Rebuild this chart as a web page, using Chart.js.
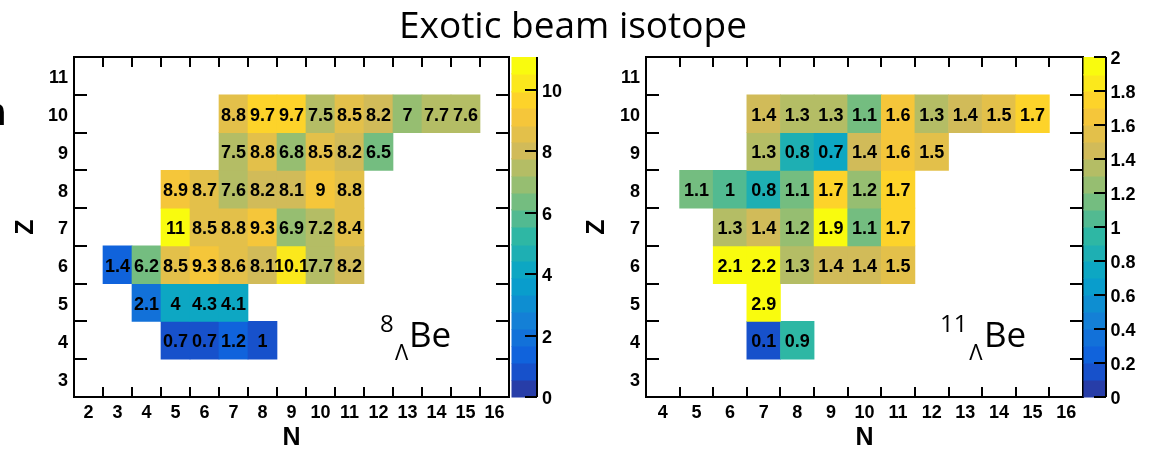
<!DOCTYPE html>
<html><head><meta charset="utf-8">
<script src="https://cdn.jsdelivr.net/npm/chart.js@4.4.1/dist/chart.umd.min.js"></script>
<style>
html,body{margin:0;padding:0;background:#fff;}
body{width:1152px;height:455px;overflow:hidden;position:relative;}
canvas{position:absolute;top:0;}
#title{position:absolute;left:0;width:1146px;top:5px;text-align:center;font-family:"Open Sans";font-size:37px;line-height:1;color:#000;white-space:nowrap;}
#frag{position:absolute;left:-17px;top:93px;font-family:"Liberation Sans";font-weight:bold;font-size:38px;line-height:1;color:#000;}
</style></head><body>
<canvas id="c1" width="576" height="455" style="left:0px"></canvas>
<canvas id="c2" width="576" height="455" style="left:576px"></canvas>
<div id="title">Exotic beam isotope</div>
<div id="frag">n</div>
<script>
// ---------- DATA ----------
const zTicks = [3,4,5,6,7,8,9,10,11];

// 8ΛBe panel: N categories 2..16
const be8N = ['2','3','4','5','6','7','8','9','10','11','12','13','14','15','16'];
const be8Z10 = [null,null,null,null,null,8.8,9.7,9.7,7.5,8.5,8.2,7,7.7,7.6,null];
const be8Z9  = [null,null,null,null,null,7.5,8.8,6.8,8.5,8.2,6.5,null,null,null,null];
const be8Z8  = [null,null,null,8.9,8.7,7.6,8.2,8.1,9,8.8,null,null,null,null,null];
const be8Z7  = [null,null,null,11,8.5,8.8,9.3,6.9,7.2,8.4,null,null,null,null,null];
const be8Z6  = [null,1.4,6.2,8.5,9.3,8.6,8.1,10.1,7.7,8.2,null,null,null,null,null];
const be8Z5  = [null,null,2.1,4,4.3,4.1,null,null,null,null,null,null,null,null,null];
const be8Z4  = [null,null,null,0.7,0.7,1.2,1,null,null,null,null,null,null,null,null];
const be8Max = 11.07;
const be8CbTicks = [0,2,4,6,8,10];

// 11ΛBe panel: N categories 4..16
const be11N = ['4','5','6','7','8','9','10','11','12','13','14','15','16'];
const be11Z10 = [null,null,null,1.4,1.3,1.3,1.1,1.6,1.3,1.4,1.5,1.7,null];
const be11Z9  = [null,null,null,1.3,0.8,0.7,1.4,1.6,1.5,null,null,null,null];
const be11Z8  = [null,1.1,1,0.8,1.1,1.7,1.2,1.7,null,null,null,null,null];
const be11Z7  = [null,null,1.3,1.4,1.2,1.9,1.1,1.7,null,null,null,null,null];
const be11Z6  = [null,null,2.1,2.2,1.3,1.4,1.4,1.5,null,null,null,null,null];
const be11Z5  = [null,null,null,2.9,null,null,null,null,null,null,null,null,null];
const be11Z4  = [null,null,null,0.1,0.9,null,null,null,null,null,null,null,null];
const be11Max = 2;
const be11CbTicks = [0,0.2,0.4,0.6,0.8,1,1.2,1.4,1.6,1.8,2];

// ---------- PALETTE (ROOT kBird, 20 contour levels) ----------
const birdR=[0.2082,0.0592,0.0780,0.0232,0.1802,0.5301,0.8186,0.9956,0.9764];
const birdG=[0.1664,0.3599,0.5041,0.6419,0.7178,0.7492,0.7328,0.7862,0.9832];
const birdB=[0.5293,0.8684,0.8385,0.7914,0.6425,0.4662,0.3499,0.1968,0.0539];
const NLEV = 20;
function pal(f){
  const p=Math.max(0,Math.min(1,f))*8; const k=Math.min(7,Math.floor(p)); const t=p-k;
  const c=a=>Math.round(255*(a[k]*(1-t)+a[k+1]*t));
  return 'rgb('+c(birdR)+','+c(birdG)+','+c(birdB)+')';
}
function levelColor(l){ const idx=Math.min(254,Math.floor((l+0.99)*255/NLEV)); return pal(idx/254); }
function cellColor(v,max){ if(v>=max) return levelColor(NLEV-1); return levelColor(Math.min(NLEV-1,Math.floor(0.01+v/max*NLEV))); }

const FONT='Liberation Sans';

const heatPlugin = {
  id:'heat',
  afterDatasetsDraw(chart){
    const {ctx, chartArea:a, scales:{x,y,cb}} = chart;
    const o = chart.options.plugins.heat;
    ctx.save();
    // cell labels
    ctx.fillStyle='#000'; ctx.font='bold 18px "'+FONT+'"';
    ctx.textAlign='center'; ctx.textBaseline='middle';
    chart.data.datasets.forEach((ds,i)=>{
      chart.getDatasetMeta(i).data.forEach((el,j)=>{
        const v=ds.vals[j]; if(v==null) return;
        ctx.fillText(String(v), el.x, (el.y+el.base)/2+2);
      });
    });
    // frame
    ctx.strokeStyle='#000'; ctx.lineWidth=2;
    ctx.strokeRect(a.left,a.top,a.right-a.left,a.bottom-a.top);
    ctx.beginPath();
    const n=x.getLabels().length;
    for(let i=1;i<n;i++){
      const px=Math.round((x.getPixelForValue(i-1)+x.getPixelForValue(i))/2);
      ctx.moveTo(px,a.bottom); ctx.lineTo(px,a.bottom-10);
      ctx.moveTo(px,a.top); ctx.lineTo(px,a.top+10);
    }
    for(let v=3.5; v<11.5; v+=1){
      const py=Math.round(y.getPixelForValue(v));
      ctx.moveTo(a.left,py); ctx.lineTo(a.left+13,py);
      ctx.moveTo(a.right,py); ctx.lineTo(a.right-13,py);
    }
    ctx.stroke();
    // colour bar
    const max=o.max, x0=o.cbX0, x1=o.cbX1;
    for(let l=0;l<NLEV;l++){
      const y0=cb.getPixelForValue(l*max/NLEV), y1=cb.getPixelForValue((l+1)*max/NLEV);
      ctx.fillStyle=levelColor(l);
      ctx.fillRect(x0, Math.floor(y1), x1-x0, Math.ceil(y0)-Math.floor(y1)+0.5);
    }
    ctx.beginPath();
    ctx.moveTo(x1,cb.top); ctx.lineTo(x1,cb.bottom);
    cb.ticks.forEach(t=>{ const py=Math.round(cb.getPixelForValue(t.value)); ctx.moveTo(x1,py); ctx.lineTo(x1-12,py); });
    ctx.stroke();
    // isotope annotation
    const an=o.ann;
    ctx.fillStyle='#000'; ctx.textAlign='left'; ctx.textBaseline='alphabetic';
    ctx.font='24px "Open Sans"'; ctx.fillText(an.mass, an.mx, an.my);
    ctx.font='22px "Open Sans"'; ctx.fillText('\u039B', an.lx, an.ly);
    ctx.font='35px "Open Sans"'; ctx.fillText('Be', an.bx, an.by);
    ctx.restore();
  }
};

function makeChart(id, cats, rows, max, cbTicks, geo){
  const datasets = rows.map(r=>({
    data: r.vals.map(v=> v==null? null : [r.z-0.5, r.z+0.5]),
    vals: r.vals,
    backgroundColor: r.vals.map(v=> v==null? 'rgba(0,0,0,0)' : cellColor(v,max)),
    borderWidth:0, grouped:false, barPercentage:1, categoryPercentage:1
  }));
  const tickFont={family:FONT,size:18,weight:'bold'};
  return new Chart(document.getElementById(id), {
    type:'bar',
    data:{labels:cats, datasets},
    options:{
      responsive:false, animation:false, devicePixelRatio:1,
      layout:{padding:{top:57,left:0,right:0,bottom:0}},
      plugins:{legend:{display:false}, tooltip:{enabled:false},
        heat:{max, cbX0:geo.cbX0, cbX1:geo.cbX1, ann:geo.ann}},
      scales:{
        x:{type:'category', offset:true, grid:{display:false,drawTicks:false}, border:{display:false},
           ticks:{color:'#000', font:tickFont, padding:5, maxRotation:0, autoSkip:false},
           title:{display:true, text:'N', color:'#000', font:{family:FONT,size:25,weight:'bold'}, padding:{top:0,bottom:1.4}},
           afterFit:s=>{s.height=58;}},
        y:{type:'linear', min:2.5, max:11.5, grid:{display:false,drawTicks:false}, border:{display:false},
           afterBuildTicks:s=>{s.ticks=zTicks.map(v=>({value:v}));},
           ticks:{color:'#000', font:tickFont, padding:6, labelOffset:2.5},
           title:{display:true, text:'Z', color:'#000', font:{family:FONT,size:25,weight:'bold'}, padding:{top:geo.zPad,bottom:0}},
           afterFit:s=>{s.width=geo.yW;}},
        cb:{type:'linear', position:'right', min:0, max:max, grid:{display:false,drawTicks:false}, border:{display:false},
           afterBuildTicks:s=>{s.ticks=cbTicks.map(v=>({value:v}));},
           ticks:{color:'#000', font:tickFont, padding:geo.cbPad, labelOffset:2, callback:v=>String(+v.toFixed(1))},
           afterFit:s=>{s.width=geo.cbW;}}
      }
    },
    plugins:[heatPlugin]
  });
}

makeChart('c1', be8N, [
  {z:10,vals:be8Z10},{z:9,vals:be8Z9},{z:8,vals:be8Z8},{z:7,vals:be8Z7},
  {z:6,vals:be8Z6},{z:5,vals:be8Z5},{z:4,vals:be8Z4}], be8Max, be8CbTicks,
  {yW:74, cbW:67, cbPad:33, cbX0:511.5, cbX1:537, zPad:11,
   ann:{mass:'8', mx:380, my:332, lx:395, ly:360, bx:409, by:346.7}});

makeChart('c2', be11N, [
  {z:10,vals:be11Z10},{z:9,vals:be11Z9},{z:8,vals:be11Z8},{z:7,vals:be11Z7},
  {z:6,vals:be11Z6},{z:5,vals:be11Z5},{z:4,vals:be11Z4}], be11Max, be11CbTicks,
  {yW:70, cbW:69, cbPad:27.5, cbX0:507.5, cbX1:530, zPad:6,
   ann:{mass:'11', mx:364, my:332, lx:393.3, ly:360, bx:408, by:346.7}});
</script></body></html>
